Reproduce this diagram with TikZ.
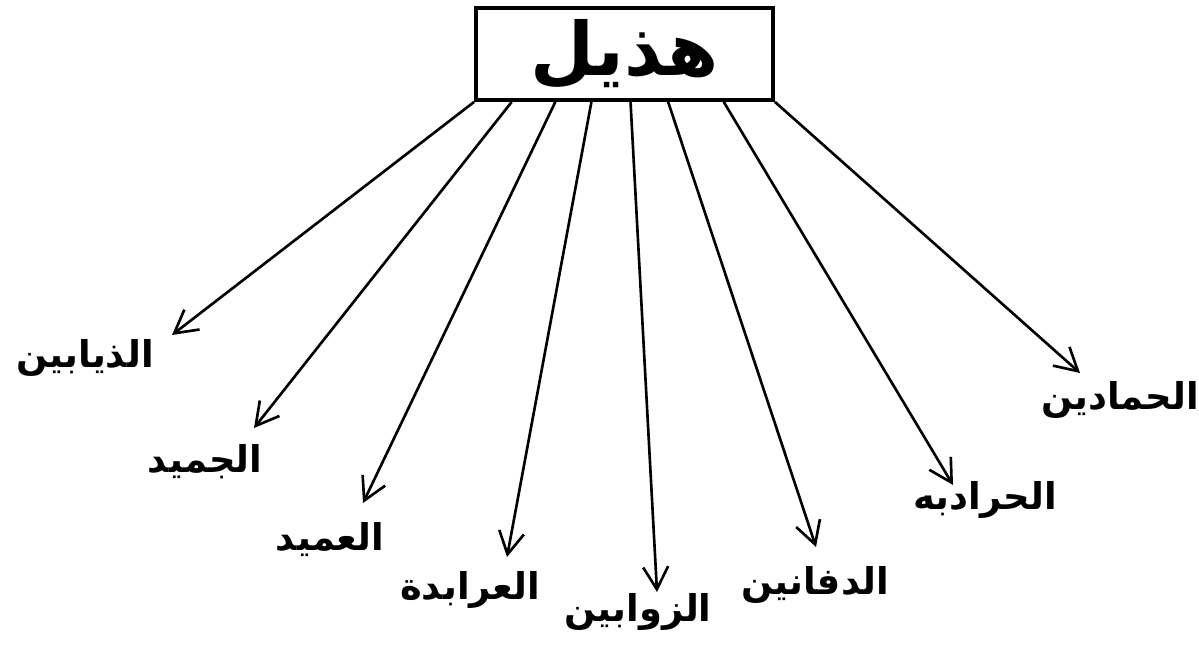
\documentclass[tikz,border=0pt]{standalone}
\usepackage{fontspec}
\newfontfamily\arabicfont[Script=Arabic]{DejaVu Sans}
\TeXXeTstate=1
\usetikzlibrary{arrows.meta,calc}

\tikzset{
  branch/.style={line width=1.5pt, -{Straight Barb[length=0.45cm,width=0.5cm,line width=1.5pt]}},
  tribe/.style={font=\arabicfont\bfseries\fontsize{21}{25}\selectfont, inner sep=0pt}
}

\begin{document}
\begin{tikzpicture}[x=0.02cm, y=-0.02cm]

\useasboundingbox (0,0) rectangle (1199,648);

\node[draw, line width=2.2pt, minimum width=5.94cm, minimum height=1.84cm, inner sep=0pt,
      font=\arabicfont\bfseries\fontsize{42}{48}\selectfont] (hudhayl) at (624.5,54) {\beginR هذيل\endR};

\node[tribe] (dhiyabin) at (85,358) {\beginR الذيابين\endR};
\node[tribe] (jumayd) at (205,462) {\beginR الجميد\endR};
\node[tribe] (umayd) at (330,540) {\beginR العميد\endR};
\node[tribe] (arabida) at (470,590) {\beginR العرابدة\endR};
\node[tribe] (zawabin) at (638,612) {\beginR الزوابين\endR};
\node[tribe] (dafanin) at (815,585) {\beginR الدفانين\endR};
\node[tribe] (haradba) at (985,500) {\beginR الحرادبه\endR};
\node[tribe] (hamadin) at (1120,400) {\beginR الحمادين\endR};

\coordinate (tA) at (172,335);
\coordinate (tB) at (254,428);
\coordinate (tC) at (363,503);
\coordinate (tD) at (507,557);
\coordinate (tE) at (657,592);
\coordinate (tF) at (816,547);
\coordinate (tG) at (953,485);
\coordinate (tH) at (1080,373);

\draw[branch] (hudhayl.south west) -- (tA);
\draw[branch] ($(hudhayl.south west)!0.125!(hudhayl.south east)$) -- (tB);
\draw[branch] ($(hudhayl.south west)!0.27!(hudhayl.south east)$) -- (tC);
\draw[branch] ($(hudhayl.south west)!0.39!(hudhayl.south east)$) -- (tD);
\draw[branch] ($(hudhayl.south west)!0.52!(hudhayl.south east)$) -- (tE);
\draw[branch] ($(hudhayl.south west)!0.645!(hudhayl.south east)$) -- (tF);
\draw[branch] ($(hudhayl.south west)!0.83!(hudhayl.south east)$) -- (tG);
\draw[branch] (hudhayl.south east) -- (tH);

\end{tikzpicture}
\end{document}
